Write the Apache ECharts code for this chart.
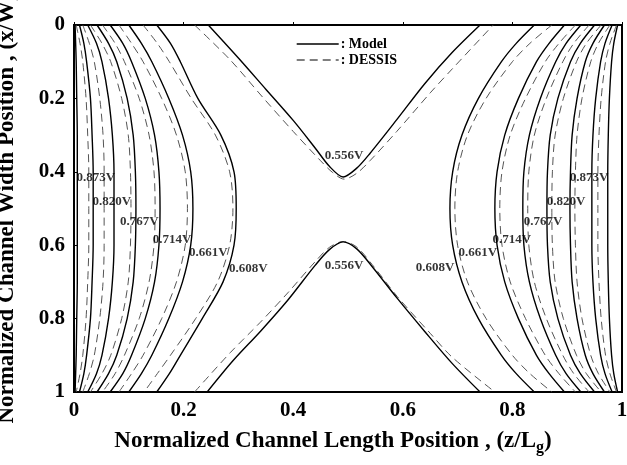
<!DOCTYPE html>
<html>
<head>
<meta charset="utf-8">
<script src="https://cdn.jsdelivr.net/npm/echarts@6/dist/echarts.min.js"></script>
<style>html,body{margin:0;padding:0;background:#fff;}#c{width:627px;height:465px;}</style>
</head>
<body>
<div id="c"></div>
<script>
// normalized width positions (x/W) where each contour's z/Lg is read
const ySamples = [0, 0.05, 0.1, 0.2, 0.3, 0.4, 0.5, 0.6, 0.7, 0.8, 0.9, 0.95, 1];

// Left (source side) contours, z/Lg at ySamples
const leftModel608 = [0.151, 0.176, 0.194, 0.226, 0.268, 0.292, 0.296, 0.292, 0.272, 0.234, 0.194, 0.174, 0.151];
const leftModel661 = [0.100, 0.123, 0.142, 0.173, 0.198, 0.213, 0.217, 0.213, 0.198, 0.173, 0.142, 0.123, 0.100];
const leftModel714 = [0.066, 0.089, 0.105, 0.130, 0.147, 0.155, 0.157, 0.155, 0.147, 0.130, 0.105, 0.089, 0.066];
const leftModel767 = [0.042, 0.063, 0.078, 0.097, 0.108, 0.112, 0.113, 0.112, 0.108, 0.097, 0.078, 0.063, 0.042];
const leftModel820 = [0.025, 0.041, 0.051, 0.063, 0.070, 0.073, 0.073, 0.073, 0.070, 0.063, 0.051, 0.041, 0.025];
const leftModel873 = [0.010, 0.018, 0.023, 0.030, 0.033, 0.035, 0.035, 0.035, 0.033, 0.030, 0.023, 0.018, 0.010];
const leftModel926 = [0.002, 0.003, 0.004, 0.005, 0.006, 0.006, 0.006, 0.006, 0.006, 0.005, 0.004, 0.003, 0.002];

const leftDessis608 = [0.126, 0.152, 0.174, 0.214, 0.258, 0.284, 0.290, 0.284, 0.262, 0.222, 0.176, 0.152, 0.128];
const leftDessis661 = [0.082, 0.105, 0.126, 0.160, 0.187, 0.203, 0.207, 0.203, 0.187, 0.160, 0.126, 0.105, 0.082];
const leftDessis714 = [0.052, 0.075, 0.092, 0.119, 0.137, 0.146, 0.148, 0.146, 0.137, 0.119, 0.092, 0.075, 0.052];
const leftDessis767 = [0.030, 0.051, 0.067, 0.087, 0.099, 0.103, 0.104, 0.103, 0.099, 0.087, 0.067, 0.051, 0.030];
const leftDessis820 = [0.016, 0.028, 0.037, 0.047, 0.053, 0.055, 0.055, 0.055, 0.053, 0.047, 0.037, 0.028, 0.016];
const leftDessis873 = [0.004, 0.011, 0.016, 0.022, 0.025, 0.027, 0.027, 0.027, 0.025, 0.022, 0.016, 0.011, 0.004];

// Right (drain side) contours, z/Lg at ySamples
const rightModel608 = [0.840, 0.807, 0.780, 0.738, 0.708, 0.691, 0.686, 0.691, 0.708, 0.738, 0.780, 0.807, 0.840];
const rightModel661 = [0.895, 0.867, 0.844, 0.811, 0.786, 0.772, 0.768, 0.772, 0.786, 0.811, 0.844, 0.867, 0.895];
const rightModel714 = [0.925, 0.898, 0.879, 0.851, 0.831, 0.821, 0.819, 0.821, 0.831, 0.851, 0.879, 0.898, 0.925];
const rightModel767 = [0.950, 0.924, 0.906, 0.883, 0.869, 0.864, 0.863, 0.864, 0.869, 0.883, 0.906, 0.924, 0.950];
const rightModel820 = [0.968, 0.947, 0.933, 0.918, 0.909, 0.906, 0.905, 0.906, 0.909, 0.918, 0.933, 0.947, 0.968];
const rightModel873 = [0.982, 0.969, 0.961, 0.952, 0.947, 0.945, 0.945, 0.945, 0.947, 0.952, 0.961, 0.969, 0.982];
const rightModel926 = [0.992, 0.985, 0.981, 0.977, 0.975, 0.974, 0.974, 0.974, 0.975, 0.977, 0.981, 0.985, 0.992];

const rightDessis608 = [0.872, 0.832, 0.800, 0.752, 0.718, 0.700, 0.695, 0.700, 0.718, 0.752, 0.800, 0.832, 0.872];
const rightDessis661 = [0.915, 0.885, 0.860, 0.824, 0.796, 0.781, 0.777, 0.781, 0.796, 0.824, 0.860, 0.885, 0.915];
const rightDessis714 = [0.940, 0.912, 0.892, 0.862, 0.840, 0.830, 0.828, 0.830, 0.840, 0.862, 0.892, 0.912, 0.940];
const rightDessis767 = [0.962, 0.935, 0.917, 0.893, 0.878, 0.873, 0.872, 0.873, 0.878, 0.893, 0.917, 0.935, 0.962];
const rightDessis820 = [0.978, 0.957, 0.943, 0.927, 0.918, 0.915, 0.914, 0.915, 0.918, 0.927, 0.943, 0.957, 0.978];
const rightDessis873 = [0.990, 0.978, 0.970, 0.962, 0.958, 0.956, 0.956, 0.956, 0.958, 0.962, 0.970, 0.978, 0.990];

// 0.556V contours as [z/Lg, x/W] pairs
const upper556Model = [[0.245,0],[0.30,0.09],[0.35,0.175],[0.40,0.26],[0.44,0.335],[0.466,0.385],[0.491,0.414],[0.516,0.39],[0.54,0.35],[0.589,0.258],[0.64,0.16],[0.69,0.075],[0.741,0]];
const upper556Dessis = [[0.22,0],[0.285,0.095],[0.345,0.198],[0.40,0.29],[0.45,0.37],[0.472,0.402],[0.493,0.42],[0.516,0.404],[0.54,0.37],[0.589,0.29],[0.65,0.185],[0.69,0.12],[0.765,0]];
const lower556Model = [[0.243,1],[0.29,0.915],[0.34,0.835],[0.39,0.75],[0.44,0.655],[0.466,0.612],[0.491,0.591],[0.516,0.61],[0.545,0.66],[0.59,0.745],[0.64,0.835],[0.69,0.922],[0.741,1]];
const lower556Dessis = [[0.22,1],[0.285,0.893],[0.34,0.81],[0.39,0.73],[0.44,0.645],[0.466,0.606],[0.491,0.59],[0.516,0.605],[0.548,0.66],[0.59,0.74],[0.65,0.84],[0.69,0.905],[0.768,1]];

// contour labels
const labelTexts = ['0.873V','0.820V','0.767V','0.714V','0.661V','0.608V','0.556V','0.556V','0.608V','0.661V','0.714V','0.767V','0.820V','0.873V'];
const labelPoints = [[0.040,0.417],[0.069,0.482],[0.119,0.537],[0.179,0.586],[0.245,0.621],[0.318,0.665],[0.493,0.357],[0.493,0.657],[0.659,0.662],[0.737,0.621],[0.799,0.586],[0.856,0.537],[0.898,0.482],[0.940,0.417]];

const xTicks = [0, 0.2, 0.4, 0.6, 0.8, 1];
const yTicks = [0, 0.2, 0.4, 0.6, 0.8, 1];

const FONT = 'Liberation Serif, Times New Roman, serif';
const modelName = ': Model';
const dessisName = ': DESSIS';

function zip(zs) { return zs.map((z, i) => [z, ySamples[i]]); }

const modelCurves = [leftModel608, leftModel661, leftModel714, leftModel767, leftModel820, leftModel873, leftModel926,
  rightModel608, rightModel661, rightModel714, rightModel767, rightModel820, rightModel873, rightModel926].map(zip)
  .concat([upper556Model, lower556Model]);
const dessisCurves = [leftDessis608, leftDessis661, leftDessis714, leftDessis767, leftDessis820, leftDessis873,
  rightDessis608, rightDessis661, rightDessis714, rightDessis767, rightDessis820, rightDessis873].map(zip)
  .concat([upper556Dessis, lower556Dessis]);

const series = [];
modelCurves.forEach(d => series.push({
  name: modelName, type: 'line', data: d, symbol: 'none', smooth: 0.3, silent: true,
  itemStyle: { color: '#000' },
  lineStyle: { color: '#000', width: 1.4, type: 'solid' }, z: 3
}));
dessisCurves.forEach(d => series.push({
  name: dessisName, type: 'line', data: d, symbol: 'none', smooth: 0.3, silent: true,
  itemStyle: { color: '#000' },
  lineStyle: { color: '#555', width: 1, type: [8, 5] }, z: 2
}));
series.push({
  type: 'scatter', symbolSize: 0, silent: true, z: 5,
  data: labelPoints.map((p, i) => ({ value: p, label: { formatter: labelTexts[i] } })),
  label: { show: true, position: 'inside', color: '#000', fontFamily: FONT, fontWeight: 'bold', fontSize: 13 }
});

const chart = echarts.init(document.getElementById('c'), null, { renderer: 'canvas' });
chart.setOption({
  animation: false,
  backgroundColor: '#fff',
  grid: { left: 74, right: 5, top: 25, bottom: 73, show: true, borderColor: '#000', borderWidth: 2,
    containLabel: false, outerBoundsMode: 'none' },
  legend: {
    data: [modelName, dessisName], orient: 'vertical', left: 296, top: 37,
    itemWidth: 42, itemHeight: 12, itemGap: 2, padding: 0, selectedMode: false,
    itemStyle: { color: 'transparent', borderColor: 'transparent', borderWidth: 0 },
    lineStyle: { color: 'inherit', width: 1.4 },
    textStyle: { fontFamily: FONT, fontWeight: 'bold', fontSize: 14, color: '#000', padding: [0, 0, 0, -3] }
  },
  xAxis: {
    type: 'value', min: 0, max: 1, interval: 0.2,
    name: '{a|Normalized Channel Length Position , (z/L}{s|g}{a|)}',
    nameLocation: 'middle', nameGap: 34,
    nameTextStyle: {
      padding: [0, 30, 0, 0],
      rich: {
        a: { fontFamily: FONT, fontWeight: 'bold', fontSize: 23, color: '#000', lineHeight: 30, verticalAlign: 'middle' },
        s: { fontFamily: FONT, fontWeight: 'bold', fontSize: 16, color: '#000', lineHeight: 16, verticalAlign: 'bottom' }
      }
    },
    axisLine: { lineStyle: { color: '#000', width: 2 } },
    axisTick: { inside: true, length: 3, lineStyle: { color: '#000' } },
    axisLabel: { margin: 8, fontFamily: FONT, fontWeight: 'bold', fontSize: 21, color: '#000',
      formatter: v => (xTicks.indexOf(+v.toFixed(1)) >= 0 ? String(+v.toFixed(1)) : '') },
    splitLine: { show: false }
  },
  yAxis: {
    type: 'value', min: 0, max: 1, interval: 0.2, inverse: true,
    name: 'Normalized Channel Width Position , (x/W)',
    nameLocation: 'middle', nameGap: 55,
    nameTextStyle: { fontFamily: FONT, fontWeight: 'bold', fontSize: 23, color: '#000' },
    axisLine: { lineStyle: { color: '#000', width: 2 } },
    axisTick: { inside: true, length: 3, lineStyle: { color: '#000' } },
    axisLabel: { margin: 9, fontFamily: FONT, fontWeight: 'bold', fontSize: 21, color: '#000',
      formatter: v => (yTicks.indexOf(+v.toFixed(1)) >= 0 ? String(+v.toFixed(1)) : '') },
    splitLine: { show: false }
  },
  series: series
});
</script>
</body>
</html>
